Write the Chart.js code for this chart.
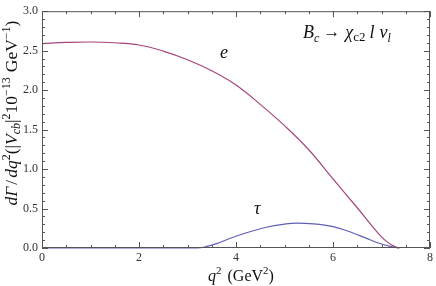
<!DOCTYPE html>
<html>
<head>
<meta charset="utf-8">
<script src="https://cdn.jsdelivr.net/npm/chart.js"></script>
<style>
  html, body { margin: 0; padding: 0; background: #fff; }
  #wrap { width: 436px; height: 286px; }
</style>
</head>
<body>
<div id="wrap"><canvas id="myChart" width="436" height="286"></canvas></div>
<script>
// values
const eQ2 = [0, 0.5, 1.0, 1.5, 2.0, 2.5, 3.0, 3.5, 4.0, 4.5, 5.0, 5.5, 6.0, 6.5, 7.0, 7.2, 7.36];
const eRate = [2.59, 2.604, 2.61, 2.6, 2.572, 2.495, 2.385, 2.245, 2.065, 1.82, 1.55, 1.245, 0.875, 0.51, 0.14, 0.04, 0];
const tauQ2 = [0, 3.2, 3.4, 3.6, 3.87, 4.2, 4.6, 5.0, 5.25, 5.6, 6.0, 6.3, 6.68, 6.95, 7.2, 7.37];
const tauRate = [0, 0, 0.02, 0.055, 0.12, 0.19, 0.26, 0.303, 0.316, 0.305, 0.27, 0.215, 0.125, 0.06, 0.018, 0];
const xTicks = [0, 2, 4, 6, 8];
const yTicks = [0, 0.5, 1.0, 1.5, 2.0, 2.5, 3.0];

const eColor = 'rgb(165, 70, 125)';
const tauColor = 'rgb(95, 95, 185)';
const serif = '"Liberation Serif", "DejaVu Serif", serif';

function pts(xs, ys) {
    return xs.map((x, i) => ({x: x, y: ys[i]}));
}

// draws a row of text pieces: [text, font, yOffset, extraGap]
function richText(ctx, parts, x, y) {
    let cx = x;
    parts.forEach(p => {
        ctx.font = p[1];
        ctx.fillText(p[0], cx, y + (p[2] || 0));
        cx += ctx.measureText(p[0]).width + (p[3] || 0);
    });
    return cx - x;
}
function richWidth(ctx, parts) {
    let w = 0;
    parts.forEach(p => {
        ctx.font = p[1];
        w += ctx.measureText(p[0]).width + (p[3] || 0);
    });
    return w;
}

const framePlugin = {
    id: 'frame',
    afterDraw(chart) {
        const ctx = chart.ctx;
        const a = chart.chartArea;
        const xs = chart.scales.x, ys = chart.scales.y;
        ctx.save();
        ctx.strokeStyle = '#555';
        ctx.lineWidth = 1;
        ctx.strokeRect(a.left + 0.5, a.top + 0.5, a.right - a.left - 1, a.bottom - a.top - 1);
        ctx.beginPath();
        for (let i = 0; i <= 16; i++) {
            const v = i * 0.5;
            const px = Math.round(xs.getPixelForValue(v)) + 0.5;
            const len = (i % 4 === 0) ? 6 : 3;
            ctx.moveTo(px, a.bottom); ctx.lineTo(px, a.bottom - len);
            ctx.moveTo(px, a.top); ctx.lineTo(px, a.top + len);
        }
        for (let i = 0; i <= 30; i++) {
            const v = i * 0.1;
            const py = Math.round(ys.getPixelForValue(v)) + 0.5;
            const len = (i % 5 === 0) ? 6 : 3;
            ctx.moveTo(a.left, py); ctx.lineTo(a.left + len, py);
            ctx.moveTo(a.right, py); ctx.lineTo(a.right - len, py);
        }
        ctx.stroke();

        ctx.fillStyle = '#111';
        ctx.textBaseline = 'alphabetic';
        // curve labels
        ctx.font = 'italic 18px ' + serif;
        ctx.fillText('e', 220, 58);
        ctx.fillText('τ', 254, 214);
        // process label
        const it = 'italic 18px ' + serif;
        const sub = 'italic 12px ' + serif;
        const up = '17px ' + serif;
        richText(ctx, [
            ['B', it, 0], ['c', sub, 4, 4], ['→', up, -1, 5],
            ['χ', it, 0], ['c2', '13px ' + serif, 3, 4],
            ['l', it, 0, 5], ['ν', it, 0], ['l', sub, 4]
        ], 303, 38);

        // x title
        const xt = [
            ['q', 'italic 16px ' + serif, 0], ['2', '11px ' + serif, -7, 6],
            ['(GeV', '16px ' + serif, 0], ['2', '11px ' + serif, -7], [')', '16px ' + serif, 0]
        ];
        richText(ctx, xt, 208, 281);

        // y title, rotated
        const big = '17.5px ' + serif, bigI = 'italic 17.5px ' + serif, sm = '12px ' + serif;
        const yt = [
            ['dΓ', bigI, 0, 2], ['/', big, 0, 2],
            ['dq', bigI, 0], ['2', sm, -7],
            ['(|', big, 0], ['V', bigI, 0],
            ['cb', 'italic 12px ' + serif, 3], ['|', big, 0],
            ['2', sm, -7], ['10', big, 0],
            ['−13', sm, -7, 5], ['GeV', big, 0],
            ['−1', sm, -7], [')', big, 0]
        ];
        const yw = richWidth(ctx, yt);
        ctx.translate(17, 113);
        ctx.rotate(-Math.PI / 2);
        richText(ctx, yt, -yw / 2, 0);
        ctx.restore();
    }
};

const ctx = document.getElementById('myChart');
const myChart = new Chart(ctx, {
    type: 'scatter',
    data: {
        datasets: [{
            label: 'e',
            data: pts(eQ2, eRate),
            showLine: true,
            borderColor: eColor,
            borderWidth: 1.2,
            pointRadius: 0,
            clip: 4,
            tension: 0.4
        }, {
            label: 'tau',
            data: pts(tauQ2, tauRate),
            showLine: true,
            borderColor: tauColor,
            borderWidth: 1.2,
            pointRadius: 0,
            clip: 4,
            cubicInterpolationMode: 'monotone'
        }]
    },
    options: {
        responsive: false,
        animation: false,
        layout: {padding: {top: 8, right: 6, left: 0, bottom: 0}},
        plugins: {
            legend: {display: false},
            tooltip: {enabled: false}
        },
        scales: {
            x: {
                type: 'linear',
                min: 0, max: 8,
                afterBuildTicks: s => { s.ticks = xTicks.map(v => ({value: v})); },
                afterFit: s => { s.height = 38; },
                grid: {display: false, drawTicks: false},
                border: {display: false},
                ticks: {
                    color: '#333',
                    padding: 3,
                    maxRotation: 0,
                    font: {family: serif, size: 12},
                    callback: v => String(v)
                }
            },
            y: {
                type: 'linear',
                min: 0, max: 3,
                afterBuildTicks: s => { s.ticks = yTicks.map(v => ({value: v})); },
                afterFit: s => { s.width = 42; },
                grid: {display: false, drawTicks: false},
                border: {display: false},
                ticks: {
                    color: '#333',
                    padding: 4,
                    font: {family: serif, size: 12},
                    callback: v => v.toFixed(1)
                }
            }
        }
    },
    plugins: [framePlugin]
});
</script>
</body>
</html>
